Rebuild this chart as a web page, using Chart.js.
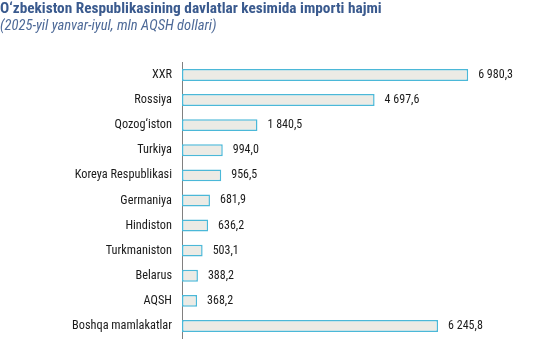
<!DOCTYPE html>
<html><head><meta charset="utf-8">
<script src="https://cdn.jsdelivr.net/npm/chart.js@4/dist/chart.umd.min.js"></script>
<style>html,body{margin:0;padding:0;background:#fff}#wrap{width:548px;height:359px;position:relative}</style>
</head><body><div id="wrap"><canvas id="c" width="548" height="359"></canvas></div>
<script>
const categories = ["XXR","Rossiya","Qozog\u2018iston","Turkiya","Koreya Respublikasi","Germaniya","Hindiston","Turkmaniston","Belarus","AQSH","Boshqa mamlakatlar"];
const importValues = [6980.3,4697.6,1840.5,994.0,956.5,681.9,636.2,503.1,388.2,368.2,6245.8];
const titleText = "O\u2018zbekiston Respublikasining davlatlar kesimida importi hajmi";
const subtitleText = "(2025-yil yanvar-iyul, mln AQSH dollari)";
const FONT = "'Liberation Sans Narrow','Roboto Condensed','DejaVu Sans Condensed',Roboto,sans-serif";

function fmt(v){
  const parts = v.toFixed(1).split('.');
  const int = parts[0].replace(/\B(?=(\d{3})+(?!\d))/g,' ');
  return int + ',' + parts[1];
}

const valueLabels = {
  id:'valueLabels',
  afterDatasetsDraw(chart){
    const ctx = chart.ctx;
    const meta = chart.getDatasetMeta(0);
    ctx.save();
    ctx.font = "12px " + FONT;
    ctx.fillStyle = '#1a1a1a';
    ctx.textAlign = 'left';
    ctx.textBaseline = 'middle';
    meta.data.forEach((bar,i)=>{
      ctx.fillText(fmt(importValues[i]), bar.x + 10, bar.y);
    });
    ctx.restore();
  }
};

new Chart(document.getElementById('c'),{
  type:'bar',
  data:{labels:categories,datasets:[{
    data:importValues,
    backgroundColor:'#ecebe5',
    borderColor:'#4bb8d8',
    borderWidth:1.5,
    borderSkipped:false,
    barPercentage:0.95,
    categoryPercentage:0.5
  }]},
  options:{
    indexAxis:'y',
    responsive:false,
    animation:false,
    layout:{padding:{left:0,right:38,top:0,bottom:20.5}},
    plugins:{
      legend:{display:false},
      tooltip:{enabled:false},
      title:{display:true,text:titleText,align:'start',color:'#3a5a8e',
        font:{family:FONT,size:15.3,weight:'bold',lineHeight:1.1},padding:{top:1,bottom:0}},
      subtitle:{display:true,text:subtitleText,align:'start',color:'#4e6a98',
        font:{family:FONT,size:14.6,style:'italic',lineHeight:1.1},padding:{top:0,bottom:28.5}}
    },
    scales:{
      x:{display:false,min:0,max:8000},
      y:{
        afterFit(s){ s.width = 182; },
        grid:{display:false,drawTicks:false},
        border:{display:true,color:'#808080',width:1},
        ticks:{color:'#1a1a1a',padding:10,font:{family:FONT,size:12.3}}
      }
    }
  },
  plugins:[valueLabels]
});
</script></body></html>
